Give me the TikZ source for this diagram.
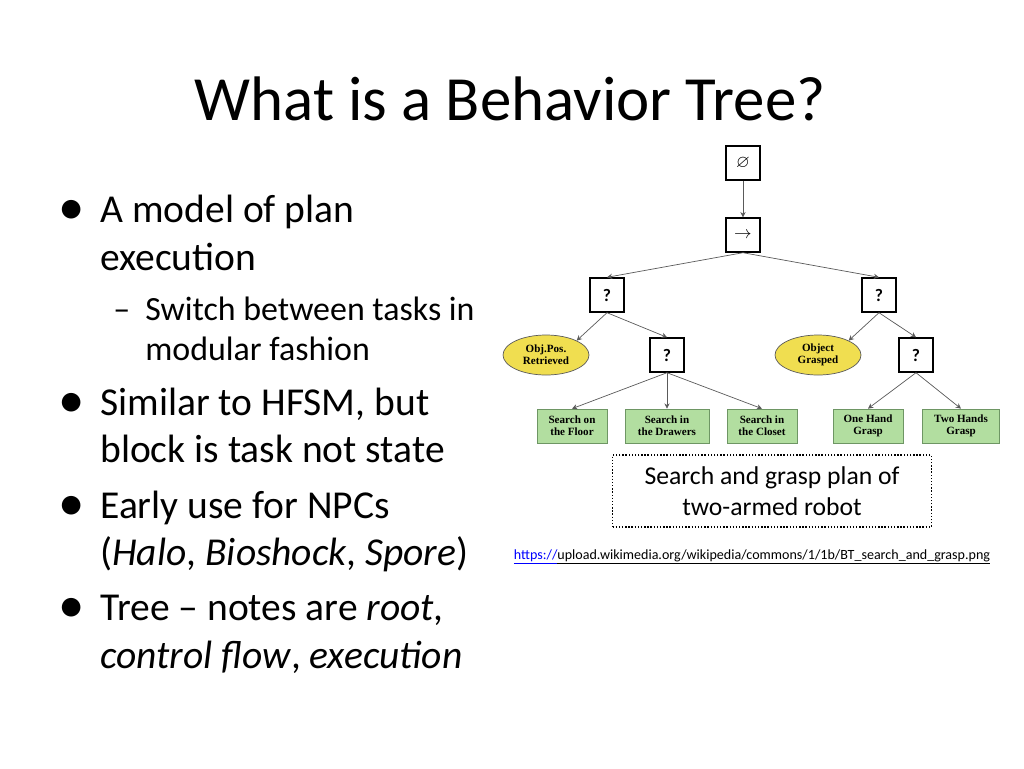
\documentclass[tikz,border=0pt]{standalone}
\usepackage{amssymb}
\usepackage{fontspec}
\setmainfont{Carlito}
\newfontfamily\treefont{Liberation Serif}
\usepackage{tikz}
\usetikzlibrary{positioning,calc,shapes.geometric,arrows.meta}
\definecolor{leafgreen}{RGB}{178,222,160}
\definecolor{leafedge}{RGB}{110,150,100}
\definecolor{condyellow}{RGB}{240,222,80}
\definecolor{linkgray}{RGB}{90,90,90}
\tikzset{
  ctrl/.style={draw=black,thick,fill=white,minimum size=34*0.02cm,inner sep=0pt},
  leaf/.style={draw=leafedge,fill=leafgreen,minimum height=34*0.02cm,inner sep=1pt,align=center,font=\treefont\bfseries\fontsize{6.3}{6.6}\selectfont},
  cond/.style={ellipse,draw=linkgray,fill=condyellow,minimum width=86*0.02cm,minimum height=40*0.02cm,inner sep=0pt,align=center,font=\treefont\bfseries\fontsize{6.3}{6.6}\selectfont},
  link/.style={draw=linkgray,-{Stealth[length=3pt,width=3pt]}},
  line/.style={anchor=base west,inner sep=0pt,font=\fontsize{22.5}{26}\selectfont},
  subline/.style={anchor=base west,inner sep=0pt,font=\fontsize{19.3}{22}\selectfont}
}
\begin{document}
\begin{tikzpicture}[x=0.02cm,y=-0.02cm]
		\useasboundingbox (0,0) rectangle (1024,768);
		% title
		\node[font=\fontsize{35.8}{40}\selectfont,anchor=base] (title) at (510,120) {What is a Behavior Tree?};
		% bullets
		\node[line,font=\fontsize{30}{30}\selectfont] (b1) at (58,224) {\textbullet};
		\node[line] (l1) at (100,222) {A model of plan};
		\node[line] (l2) at (100,270) {execution};
		\node[subline] (s1) at (113,320) {--};
		\node[subline] (l3) at (145,320) {Switch between tasks in};
		\node[subline] (l4) at (145,360) {modular fashion};
		\node[line,font=\fontsize{30}{30}\selectfont] (b2) at (58,417) {\textbullet};
		\node[line] (l5) at (100,415) {Similar to HFSM, but};
		\node[line] (l6) at (100,462) {block is task not state};
		\node[line,font=\fontsize{30}{30}\selectfont] (b3) at (58,520) {\textbullet};
		\node[line] (l7) at (100,518) {Early use for NPCs};
		\node[line] (l8) at (100,565) {(\textit{Halo}, \textit{Bioshock}, \textit{Spore})};
		\node[line,font=\fontsize{30}{30}\selectfont] (b4) at (58,622) {\textbullet};
		\node[line] (l9) at (100,620) {Tree -- notes are \textit{root},};
		\node[line] (l10) at (100,668) {\textit{control flow}, \textit{execution}};
		% tree
		\node[ctrl] (root) at (743,163) {$\varnothing$};
		\node[ctrl] (seq) at (743,235) {$\rightarrow$};
		\node[ctrl] (selL) at (607,295) {\bfseries ?};
		\node[ctrl] (selR) at (879,295) {\bfseries ?};
		\node[cond] (objpos) at (546,355) {Obj.Pos.\\Retrieved};
		\node[ctrl] (selLM) at (667,355) {\bfseries ?};
		\node[cond] (objgr) at (818,355) {Object\\Grasped};
		\node[ctrl] (selRM) at (916,355) {\bfseries ?};
		\node[leaf,minimum width=70*0.02cm] (floor) at (572,426) {Search on\\the Floor};
		\node[leaf,minimum width=84*0.02cm] (drawers) at (667,426) {Search in\\the Drawers};
		\node[leaf,minimum width=70*0.02cm] (closet) at (762,426) {Search in\\the Closet};
		\node[leaf,minimum width=70*0.02cm] (onehand) at (868,426) {One Hand\\Grasp};
		\node[leaf,minimum width=77*0.02cm] (twohands) at (961,426) {Two Hands\\Grasp};
		\draw[link] (root.south) -- (seq.north);
		\foreach \kid in {selL,selR}
			\draw[link] (seq.south) -- (\kid.north);
		\draw[link] (selL.south) -- (objpos.north east);
		\draw[link] (selL.south) -- (selLM.north);
		\draw[link] (selR.south) -- (objgr.north east);
		\draw[link] (selR.south) -- (selRM.north);
		\foreach \kid in {floor,drawers,closet}
			\draw[link] (selLM.south) -- (\kid.north);
		\foreach \kid in {onehand,twohands}
			\draw[link] (selRM.south) -- (\kid.north);
		% caption and source
		\node[draw,densely dotted,thick,minimum width=319*0.02cm,minimum height=72*0.02cm,align=center,font=\fontsize{14.6}{17.5}\selectfont] (caption) at (772,491) {Search and grasp plan of\\two-armed robot};
		\node[font=\fontsize{8}{9}\selectfont,inner sep=0pt] (src) at (752,557) {\textcolor{blue}{\underline{https://}}\underline{upload.wikimedia.org/wikipedia/commons/1/1b/BT\_search\_and\_grasp.png}};
\end{tikzpicture}
\end{document}
